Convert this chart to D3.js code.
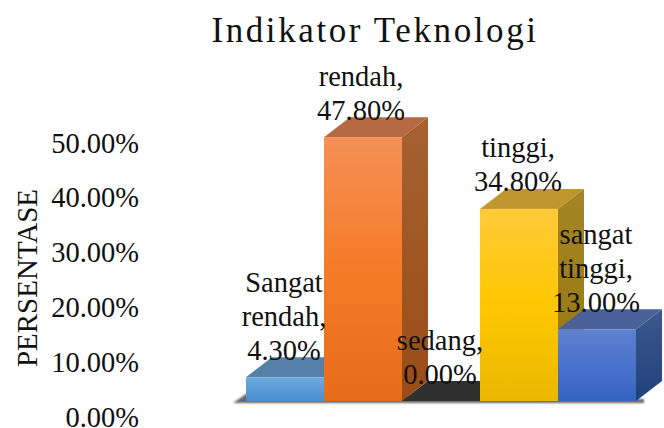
<!DOCTYPE html>
<html><head><meta charset="utf-8">
<script src="https://cdn.jsdelivr.net/npm/d3@7/dist/d3.min.js"></script>
<style>html,body{margin:0;padding:0;background:#fff;overflow:hidden}svg{display:block}text{font-family:"Liberation Serif",serif;fill:#111}</style>
</head><body><svg id="c" width="664" height="428"></svg>
<script>
const categories=["Sangat rendah","rendah","sedang","tinggi","sangat tinggi"];
const values=[4.3,47.8,0,34.8,13];
const tickValues=[0,10,20,30,40,50];
const palette=[
 {top:"#70abe2",mid:"#5b9bd9",bottom:"#4b90d2",cap:"#5580a8",side:"#2f6aa2"},
 {top:"#f59056",mid:"#f57b27",bottom:"#e66c1a",cap:"#b56a42",side:"#9a4c16"},
 {top:"#3a3a3a",mid:"#333333",bottom:"#2c2c2c",cap:"#2f2f2f",side:"#2a2a2a"},
 {top:"#ffca3a",mid:"#ffc700",bottom:"#eab800",cap:"#c0962f",side:"#977508"},
 {top:"#5f82d0",mid:"#4a72cc",bottom:"#3464c0",cap:"#4a6199",side:"#21417c"}];
const labelLines=[["Sangat","rendah,","4.30%"],["rendah,","47.80%"],["sedang,","0.00%"],["tinggi,","34.80%"],["sangat","tinggi,","13.00%"]];
const labelCenter=[284,361,440,518,596], labelBottom=[360,120,384,191,312];

const svg=d3.select("#c"), defs=svg.append("defs");
const x=d3.scaleBand().domain(categories).range([246,636]).padding(0);
const y=d3.scaleLinear().domain([0,50]).range([401,125]);
const axisY=d3.scaleLinear().domain([0,50]).range([417,143]);
const dx=26, dy=-20, lh=34;

palette.forEach((p,i)=>{
 const g=defs.append("linearGradient").attr("id","f"+i).attr("x1",0).attr("x2",0).attr("y1",0).attr("y2",1);
 g.append("stop").attr("offset",0).attr("stop-color",p.top);
 g.append("stop").attr("offset",0.5).attr("stop-color",p.mid);
 g.append("stop").attr("offset",1).attr("stop-color",p.bottom);
 const s=defs.append("linearGradient").attr("id","s"+i).attr("x1",0).attr("x2",0).attr("y1",0).attr("y2",1);
 s.append("stop").attr("offset",0).attr("stop-color",d3.interpolateRgb(p.side,"#fff")(0.12));
 s.append("stop").attr("offset",1).attr("stop-color",p.side);
});
defs.append("filter").attr("id","blur").attr("x","-5%").attr("y","-100%").attr("width","110%").attr("height","300%")
 .append("feGaussianBlur").attr("stdDeviation",1.2);

svg.append("text").attr("x",375).attr("y",42).attr("text-anchor","middle")
 .attr("font-size",35).attr("letter-spacing",2.6).text("Indikator Teknologi");

svg.append("text").attr("transform","translate(37,278) rotate(-90)").attr("text-anchor","middle")
 .attr("font-size",29).text("PERSENTASE");

const ax=svg.append("g").attr("transform","translate(139,0)")
 .call(d3.axisLeft(axisY).tickValues(tickValues).tickFormat(d=>d3.format(".2f")(d)+"%").tickSize(0).tickPadding(0));
ax.select(".domain").remove();
ax.selectAll("text").attr("font-size",28.5).attr("dy","0.32em");

svg.append("path").attr("filter","url(#blur)").attr("fill","#666")
 .attr("d",d3.line()([[x.range()[0]-13,403],[x.range()[1]+8,403],[x.range()[1]+8,399],[x.range()[0],394]])+"Z");

const bars=svg.append("g").selectAll("g").data(categories).join("g");
bars.each(function(c,i){
 const g=d3.select(this), l=x(c), r=l+x.bandwidth(), t=y(values[i]), b=y(0), p=palette[i];
 g.append("path").attr("fill",p.cap)
  .attr("d",d3.line()([[l,t],[r,t],[r+dx,t+dy],[l+dx,t+dy]])+"Z");
 g.append("path").attr("fill",`url(#s${i})`)
  .attr("d",d3.line()([[r,t],[r+dx,t+dy],[r+dx,b+dy],[r,b]])+"Z");
});
bars.each(function(c,i){
 if(values[i]===0) return;
 const l=x(c), t=y(values[i]), b=y(0);
 d3.select(this).append("rect").attr("x",l).attr("y",t).attr("width",x.bandwidth()).attr("height",b-t)
  .attr("fill",`url(#f${i})`);
});

svg.append("g").selectAll("text").data(labelLines).join("text")
 .attr("text-anchor","middle").attr("font-size",28.5)
 .each(function(lines,i){
  d3.select(this).selectAll("tspan").data(lines).join("tspan")
   .attr("x",labelCenter[i])
   .attr("y",(d,j)=>labelBottom[i]-(lines.length-1-j)*lh)
   .text(d=>d);
 });
</script></body></html>
